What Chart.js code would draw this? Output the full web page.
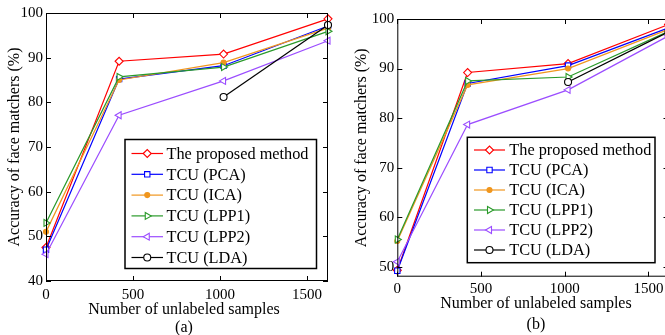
<!DOCTYPE html>
<html>
<head>
<meta charset="utf-8">
<script src="https://cdn.jsdelivr.net/npm/chart.js@4"></script>
<style>
  html, body { margin: 0; padding: 0; background: #fff; overflow: hidden; width: 665px; height: 335px; }
  canvas { position: absolute; top: 0; }
  #chartA { left: 0; }
  #chartB { left: 335px; }
</style>
</head>
<body>
<canvas id="chartA" width="335" height="335"></canvas>
<canvas id="chartB" width="345" height="335"></canvas>
<script>
// unlabeled sample counts (x axis)
const xSamples = [0, 420, 1020, 1620];
const seriesLabels = ["The proposed method", "TCU (PCA)", "TCU (ICA)", "TCU (LPP1)", "TCU (LPP2)", "TCU (LDA)"];
const yTicksA = [40, 50, 60, 70, 80, 90, 100];
const yTicksB = [50, 60, 70, 80, 90, 100];
const xTicks = [0, 500, 1000, 1500];

// (a)
const accA_proposed = [47.5, 89.2, 90.8, 98.7];
const accA_pca      = [47.0, 85.2, 88.2, 97.1];
const accA_ica      = [51.0, 85.0, 88.9, 96.6];
const accA_lpp1     = [53.0, 85.7, 87.9, 95.9];
const accA_lpp2     = [46.0, 77.1, 84.8, 93.8];
const accA_lda      = [null, null, 81.2, 97.3];

// (b)
const accB_proposed = [49.3, 89.2, 91.0, 98.9];
const accB_pca      = [49.2, 87.0, 90.6, 98.2];
const accB_ica      = [55.2, 86.7, 90.0, 97.9];
const accB_lpp1     = [55.5, 87.5, 88.3, 97.5];
const accB_lpp2     = [51.0, 78.7, 85.7, 96.6];
const accB_lda      = [null, null, 87.3, 97.4];

const STYLES = [
  { color: "#ff0000", point: "rectRot",  radius: 4,   rotation: 0,   fill: "#ffffff" },
  { color: "#0000ff", point: "rect",     radius: 3.8, rotation: 0,   fill: "#ffffff" },
  { color: "#f0961e", point: "circle",   radius: 2.5, rotation: 0,   fill: "#f0961e" },
  { color: "#2a9a2a", point: "triangle", radius: 4,   rotation: 90,  fill: "#ffffff" },
  { color: "#9b4dff", point: "triangle", radius: 4,   rotation: -90, fill: "#ffffff" },
  { color: "#000000", point: "circle",   radius: 3.5, rotation: 0,   fill: "#ffffff" },
];

const SERIF = "'Liberation Serif', 'Times New Roman', serif";

function buildDatasets(series) {
  return series.map((vals, i) => {
    const s = STYLES[i];
    return {
      label: seriesLabels[i],
      data: xSamples.map((x, k) => ({ x, y: vals[k] })),
      borderColor: s.color,
      backgroundColor: s.fill,
      borderWidth: 1.2,
      pointStyle: s.point,
      pointRadius: s.radius,
      pointRotation: s.rotation,
      pointBorderWidth: 1.1,
      pointBorderColor: s.color,
      pointBackgroundColor: s.fill,
      tension: 0,
      spanGaps: false,
      clip: false,
      order: series.length - i,
    };
  });
}

function drawMarker(ctx, s, x, y) {
  ctx.save();
  ctx.strokeStyle = s.color;
  ctx.fillStyle = s.fill;
  ctx.lineWidth = 1.1;
  if (Chart.helpers && Chart.helpers.drawPoint) {
    Chart.helpers.drawPoint(ctx, { pointStyle: s.point, radius: s.radius, rotation: s.rotation, borderWidth: 1.1 }, x, y);
  } else {
    ctx.beginPath(); ctx.arc(x, y, s.radius, 0, Math.PI * 2); ctx.fill(); ctx.stroke();
  }
  ctx.restore();
}

// box, inward ticks, legend and titles (MATLAB-like look)
const decor = {
  id: "decor",
  afterDatasetsDraw(chart, args, opts) {
    const ctx = chart.ctx;
    const a = chart.chartArea;
    const xs = chart.scales.x, ys = chart.scales.y;
    ctx.save();
    ctx.strokeStyle = "#000";
    ctx.lineWidth = 1;
    ctx.strokeRect(a.left + 0.5, a.top + 0.5, a.right - a.left - 1, a.bottom - a.top - 1);
    const tl = 5;
    ctx.beginPath();
    xs.ticks.forEach(t => {
      const px = Math.round(xs.getPixelForValue(t.value)) + 0.5;
      ctx.moveTo(px, a.bottom); ctx.lineTo(px, a.bottom - tl);
      ctx.moveTo(px, a.top); ctx.lineTo(px, a.top + tl);
    });
    ys.ticks.forEach(t => {
      const py = Math.round(ys.getPixelForValue(t.value)) + 0.5;
      ctx.moveTo(a.left, py); ctx.lineTo(a.left + tl, py);
      ctx.moveTo(a.right, py); ctx.lineTo(a.right - tl, py);
    });
    ctx.stroke();

    // legend
    const L = opts.legend;
    ctx.fillStyle = "#fff";
    ctx.fillRect(L.left, L.top, L.width, L.height);
    ctx.lineWidth = 1.5;
    ctx.strokeStyle = "#000";
    ctx.strokeRect(L.left, L.top, L.width, L.height);
    ctx.font = "16.3px " + SERIF;
    ctx.textBaseline = "middle";
    ctx.textAlign = "left";
    chart.data.datasets.forEach((ds, i) => {
      const s = STYLES[i];
      const y = L.top + L.first + i * L.step;
      ctx.strokeStyle = s.color;
      ctx.lineWidth = 1.2;
      ctx.beginPath();
      ctx.moveTo(L.left + L.lineX0, y); ctx.lineTo(L.left + L.lineX1, y);
      ctx.stroke();
      drawMarker(ctx, s, L.left + (L.lineX0 + L.lineX1) / 2, y);
      ctx.fillStyle = "#000";
      ctx.fillText(ds.label, L.left + L.textX, y + 1);
    });

    // titles
    ctx.fillStyle = "#000";
    ctx.font = "16px " + SERIF;
    ctx.textAlign = "center";
    const cx = (a.left + a.right) / 2 + opts.titleShift;
    ctx.fillText("Number of unlabeled samples", cx, a.bottom + opts.xTitleGap);
    ctx.fillText(opts.caption, cx, a.bottom + opts.captionGap);
    ctx.save();
    ctx.translate(opts.yTitleX, (a.top + a.bottom) / 2);
    ctx.rotate(-Math.PI / 2);
    ctx.fillText("Accuracy of face matchers (%)", 0, 0);
    ctx.restore();
    ctx.restore();
  }
};

function makeChart(id, series, cfg) {
  return new Chart(document.getElementById(id), {
    type: "line",
    data: { datasets: buildDatasets(series) },
    plugins: [decor],
    options: {
      responsive: false,
      animation: false,
      devicePixelRatio: 1,
      layout: { padding: { left: 0, top: cfg.top, right: cfg.right, bottom: 0 } },
      plugins: {
        legend: { display: false },
        tooltip: { enabled: false },
        decor: cfg.decor,
      },
      scales: {
        x: {
          type: "linear",
          min: 0,
          max: cfg.xMax,
          grid: { display: false, drawTicks: false },
          border: { display: false },
          ticks: {
            color: "#000", font: { family: SERIF, size: 15 }, padding: cfg.xPad, maxRotation: 0, autoSkip: false,
            callback: v => String(v),
          },
          afterBuildTicks(scale) { scale.ticks = xTicks.map(v => ({ value: v })); },
          afterFit(scale) { scale.height = cfg.xHeight; },
        },
        y: {
          type: "linear",
          min: cfg.yMin,
          max: 100,
          grid: { display: false, drawTicks: false },
          border: { display: false },
          ticks: {
            color: "#000", font: { family: SERIF, size: 15 }, padding: 3, autoSkip: false,
            callback: v => String(v),
          },
          afterBuildTicks(scale) { scale.ticks = cfg.yTicks.map(v => ({ value: v })); },
          afterFit(scale) { scale.width = cfg.yWidth; },
        },
      },
    },
  });
}

makeChart("chartA", [accA_proposed, accA_pca, accA_ica, accA_lpp1, accA_lpp2, accA_lda], {
  top: 13, right: 7, xMax: 1620, yMin: 40, yTicks: yTicksA, xHeight: 54, yWidth: 46, xPad: 5,
  decor: {
    legend: { left: 125, top: 139.5, width: 191.5, height: 129, first: 14, step: 20.8, lineX0: 6.5, lineX1: 38, textX: 41.5 },
    caption: "(a)", titleShift: -3, xTitleGap: 29, captionGap: 47, yTitleX: 15,
  },
});

makeChart("chartB", [accB_proposed, accB_pca, accB_ica, accB_lpp1, accB_lpp2, accB_lda], {
  top: 19, right: 11.5, xMax: 1620, yMin: 48, yTicks: yTicksB, xHeight: 58.3, yWidth: 62.3, xPad: 3,
  decor: {
    legend: { left: 132.3, top: 137.3, width: 187.7, height: 125.4, first: 12.7, step: 20, lineX0: 6.7, lineX1: 37.7, textX: 42 },
    caption: "(b)", titleShift: 3, xTitleGap: 27, captionGap: 48, yTitleX: 26.7,
  },
});
</script>
</body>
</html>
